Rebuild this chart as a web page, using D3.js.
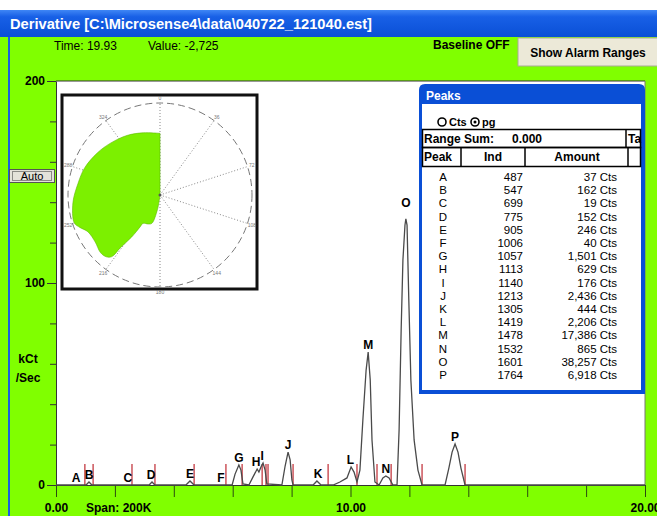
<!DOCTYPE html>
<html>
<head>
<meta charset="UTF-8">
<title>Derivative</title>
<script src="https://d3js.org/d3.v7.min.js"></script>
<style>
    body { margin: 0; background: #fff; }
    svg text { font-family: "Liberation Sans", Arial, sans-serif; }
    .bold { font-weight: bold; }
</style>
</head>
<body>
<div id="chart"></div>
<script>
(function(d3) {

    // chromatogram trace (time in min, kCt/Sec)
    var traceTime = [0, 1.02, 1.12, 1.22, 3.16, 3.26, 3.36, 4.41, 4.55, 4.69, 5.98,
        6.08, 6.21, 6.28, 6.35, 6.55, 6.69, 6.83, 6.89, 6.96, 7.03, 7.10, 7.16,
        7.67, 7.78, 7.88, 7.95, 8.01, 8.05, 8.73, 8.86, 9.0, 9.41, 9.64, 9.88,
        10.02, 10.12, 10.22, 10.32, 10.42, 10.53, 10.60, 10.67, 10.73, 10.83,
        10.97, 11.1, 11.2, 11.31, 11.44, 11.58, 11.65, 11.72, 11.78, 11.85, 11.88,
        11.92, 11.98, 12.05, 12.16, 12.29, 12.43, 13.21, 13.34, 13.45, 13.55,
        13.65, 13.75, 13.89, 20];
    var traceValue = [0, 0, 1.5, 0, 0, 1.5, 0, 0, 2, 0, 0,
        5.4, 9.9, 7.4, 0.5, 0, 4, 7.9, 6.4, 8.9, 10.9, 7.4, 0.5,
        0, 9.4, 16.3, 12.4, 2.5, 0, 0, 2, 0, 0, 1.5, 3.5,
        8.9, 6.4, 1.5, 7.4, 32.2, 56.9, 65.8, 52, 22.3, 1.5,
        0, 3.5, 4.5, 3.5, 0, 0, 27.2, 76.7, 111.4, 128.7, 131.7,
        128.7, 91.6, 52, 22.3, 7.4, 0, 0, 8.4, 16.3, 20.3,
        16.3, 8.4, 0, 0];

    // peak table
    var peakNames = ['A', 'B', 'C', 'D', 'E', 'F', 'G', 'H', 'I', 'J', 'K', 'L', 'M', 'N', 'O', 'P'];
    var peakInd = [487, 547, 699, 775, 905, 1006, 1057, 1113, 1140, 1213, 1305, 1419, 1478, 1532, 1601, 1764];
    var peakAmount = [37, 162, 19, 152, 246, 40, 1501, 629, 176, 2436, 444, 2206, 17386, 865, 38257, 6918];
    // where each peak letter sits on the chart
    var peakTime = [0.68, 1.12, 2.44, 3.23, 4.55, 5.6, 6.21, 6.79, 7.0, 7.88, 8.9, 10.0, 10.6, 11.2, 11.88, 13.55];
    var peakValue = [0, 1.5, 0, 1.5, 2, 0, 9.9, 7.9, 10.9, 16.3, 2, 8.9, 65.8, 4.5, 136, 20.3];
    // red integration marks
    var markerTime = [0.98, 1.26, 2.58, 3.36, 4.69, 5.77, 6.32, 7.0, 7.13, 7.2, 8.05, 9.24, 10.22, 10.9, 11.38, 12.43, 13.89];

    var yMinorTicks = [0, 20, 40, 60, 80, 100, 120, 140, 160, 180, 200];
    var yMajorTicks = [0, 100, 200];
    var xMinorTicks = [0, 2, 4, 6, 8, 10, 12, 14, 16, 18, 20];
    var xMajorTicks = [0, 10, 20];

    // polar inset
    var polarAngle = [180, 190, 196, 202, 211, 212, 214, 217, 218, 221, 226, 234, 243, 248, 252, 265, 278, 290, 304, 316, 331, 345, 360];
    var polarRadius = [0, 16, 32, 34, 36, 41, 55, 72, 85, 89, 90, 87, 88, 94, 98, 95, 90, 87, 82, 78, 74, 70, 67];
    var spokeAngles = [0, 36, 72, 108, 144, 180, 216, 252, 288, 324];

    var green = '#80ff00';
    var svg = d3.select('#chart').append('svg')
        .attr('width', 657).attr('height', 516);

    var defs = svg.append('defs');
    var grad = defs.append('linearGradient').attr('id', 'tbar')
        .attr('x1', 0).attr('y1', 0).attr('x2', 0).attr('y2', 1);
    grad.append('stop').attr('offset', '0%').attr('stop-color', '#3f86f5');
    grad.append('stop').attr('offset', '25%').attr('stop-color', '#1860e6');
    grad.append('stop').attr('offset', '100%').attr('stop-color', '#0a4fd6');

    svg.append('rect').attr('width', 657).attr('height', 516).attr('fill', green);
    svg.append('rect').attr('width', 657).attr('height', 10).attr('fill', '#fff');

    // title bar
    svg.append('rect').attr('x', 0).attr('y', 10).attr('width', 657).attr('height', 27)
        .attr('fill', 'url(#tbar)');
    svg.append('text').attr('class', 'bold').attr('x', 10).attr('y', 29)
        .attr('fill', '#fff').style('font-size', '14px')
        .attr('textLength', 362).attr('lengthAdjust', 'spacingAndGlyphs')
        .text('Derivative [C:\\Microsense4\\data\\040722_121040.est]');

    svg.append('rect').attr('x', 8).attr('y', 37).attr('width', 2).attr('height', 479).attr('fill', '#1a5ee0');

    // status line
    svg.append('text').attr('x', 54).attr('y', 50).style('font-size', '12px').text('Time: 19.93');
    svg.append('text').attr('x', 148).attr('y', 50).style('font-size', '12px').text('Value: -2,725');
    svg.append('text').attr('class', 'bold').attr('x', 433).attr('y', 49).style('font-size', '12px').text('Baseline OFF');

    svg.append('rect').attr('x', 518).attr('y', 38).attr('width', 141).attr('height', 28)
        .attr('fill', '#ece9d8').attr('stroke', '#aca899');
    svg.append('text').attr('class', 'bold').attr('x', 588).attr('y', 57)
        .attr('text-anchor', 'middle').style('font-size', '12px').text('Show Alarm Ranges');

    // main plot
    var x = d3.scaleLinear().domain([0, 20]).range([56, 645]);
    var y = d3.scaleLinear().domain([0, 200]).range([485, 81]);

    svg.append('rect').attr('x', x(0)).attr('y', y(200))
        .attr('width', x(20) - x(0)).attr('height', y(0) - y(200)).attr('fill', '#fff');
    svg.append('line').attr('x1', x(0)).attr('x2', x(20)).attr('y1', y(200)).attr('y2', y(200))
        .attr('stroke', '#333');
    svg.append('line').attr('x1', x(20)).attr('x2', x(20)).attr('y1', y(200)).attr('y2', y(0))
        .attr('stroke', '#777');

    var yMinor = svg.append('g').attr('transform', 'translate(' + x(0) + ',0)')
        .call(d3.axisLeft(y).tickValues(yMinorTicks).tickSize(6).tickSizeOuter(0).tickFormat(''));
    var yMajor = svg.append('g').attr('transform', 'translate(' + x(0) + ',0)')
        .call(d3.axisLeft(y).tickValues(yMajorTicks).tickSize(9).tickSizeOuter(0).tickPadding(2).tickFormat(d3.format('d')));
    yMajor.select('.domain').remove();
    yMajor.selectAll('text').attr('class', 'bold').style('font-size', '12px').attr('fill', '#000');
    [yMinor, yMajor].forEach(function(g) {
        g.selectAll('line').attr('stroke', '#333');
        g.select('.domain').attr('stroke', '#333');
    });

    var xMinor = svg.append('g').attr('transform', 'translate(0,' + y(0) + ')')
        .call(d3.axisBottom(x).tickValues(xMinorTicks).tickSize(12).tickSizeOuter(0).tickFormat(''));
    xMinor.selectAll('line').attr('stroke', '#2b4a10');
    xMinor.select('.domain').attr('stroke', '#333');
    var xMajor = svg.append('g').attr('transform', 'translate(0,' + y(0) + ')')
        .call(d3.axisBottom(x).tickValues(xMajorTicks).tickSize(0).tickPadding(18).tickFormat(d3.format('.2f')));
    xMajor.select('.domain').remove();
    xMajor.selectAll('text').attr('class', 'bold').style('font-size', '12px').attr('fill', '#000');

    svg.append('text').attr('class', 'bold').attr('x', 86).attr('y', 512)
        .style('font-size', '12px').text('Span: 200K');
    svg.append('text').attr('class', 'bold').attr('x', 28).attr('y', 363)
        .attr('text-anchor', 'middle').style('font-size', '12px').text('kCt');
    svg.append('text').attr('class', 'bold').attr('x', 28).attr('y', 382)
        .attr('text-anchor', 'middle').style('font-size', '12px').text('/Sec');

    // Auto button
    svg.append('rect').attr('x', 9.5).attr('y', 169.5).attr('width', 45).attr('height', 13)
        .attr('fill', '#e4e2da').attr('stroke', '#555');
    svg.append('rect').attr('x', 12.5).attr('y', 171.5).attr('width', 39).attr('height', 9)
        .attr('fill', 'none').attr('stroke', '#333').attr('stroke-dasharray', '1,1');
    svg.append('text').attr('x', 32).attr('y', 180).attr('text-anchor', 'middle')
        .style('font-size', '11px').text('Auto');

    // red marks
    svg.append('g').selectAll('line').data(markerTime).enter().append('line')
        .attr('x1', function(d) { return x(d); }).attr('x2', function(d) { return x(d); })
        .attr('y1', y(0)).attr('y2', y(0) - 21)
        .attr('stroke', '#c8484f').attr('stroke-width', 1.4);

    // trace
    var line = d3.line()
        .x(function(d) { return x(d[0]); })
        .y(function(d) { return y(d[1]); });
    svg.append('path').datum(d3.zip(traceTime, traceValue))
        .attr('d', line).attr('fill', 'none').attr('stroke', '#4a4a4a').attr('stroke-width', 1.3);

    svg.append('g').selectAll('text').data(peakNames).enter().append('text')
        .attr('class', 'bold')
        .attr('x', function(d, i) { return x(peakTime[i]); })
        .attr('y', function(d, i) { return y(peakValue[i]) - 3; })
        .attr('text-anchor', 'middle').style('font-size', '12px')
        .text(function(d) { return d; });

    // polar inset
    svg.append('rect').attr('x', 62).attr('y', 95).attr('width', 195).attr('height', 194)
        .attr('fill', '#fff').attr('stroke', '#111').attr('stroke-width', 3);
    var polar = svg.append('g').attr('transform', 'translate(160,195)');
    var r = d3.scaleLinear().domain([0, 100]).range([0, 92]);
    polar.selectAll('.spoke').data(spokeAngles).enter().append('line')
        .attr('x1', 0).attr('y1', 0)
        .attr('x2', function(d) { return r(100) * Math.sin(d * Math.PI / 180); })
        .attr('y2', function(d) { return -r(100) * Math.cos(d * Math.PI / 180); })
        .attr('stroke', '#888').attr('stroke-dasharray', '1,2');
    polar.append('circle').attr('r', r(100)).attr('fill', 'none')
        .attr('stroke', '#777').attr('stroke-dasharray', '7,4');
    polar.selectAll('.slab').data(spokeAngles).enter().append('text')
        .attr('x', function(d) { return r(105) * Math.sin(d * Math.PI / 180); })
        .attr('y', function(d) { return -r(105) * Math.cos(d * Math.PI / 180) + 2; })
        .attr('text-anchor', 'middle').attr('fill', '#777').style('font-size', '5px')
        .text(function(d) { return d; });
    var area = d3.areaRadial()
        .angle(function(d) { return d[0] * Math.PI / 180; })
        .innerRadius(0)
        .outerRadius(function(d) { return r(d[1]); })
        .curve(d3.curveCatmullRom);
    polar.append('path').datum(d3.zip(polarAngle, polarRadius))
        .attr('d', area).attr('fill', '#7cf000').attr('stroke', '#5cb800').attr('stroke-width', 0.6);
    polar.append('circle').attr('r', 1.5).attr('fill', '#555');

    // Peaks window
    var pw = svg.append('g');
    pw.append('path')
        .attr('d', 'M419,394 L419,90 Q419,84 425,84 L639,84 Q645,84 645,90 L645,394 Z')
        .attr('fill', '#0a4fd6');
    pw.append('rect').attr('x', 422).attr('y', 104).attr('width', 219).attr('height', 286).attr('fill', '#fff');
    pw.append('text').attr('class', 'bold').attr('x', 426).attr('y', 100)
        .attr('fill', '#fff').style('font-size', '12px').text('Peaks');

    pw.append('circle').attr('cx', 442).attr('cy', 122).attr('r', 4).attr('fill', '#fff')
        .attr('stroke', '#000').attr('stroke-width', 1.6);
    pw.append('text').attr('class', 'bold').attr('x', 449).attr('y', 126).style('font-size', '11px').text('Cts');
    pw.append('circle').attr('cx', 475).attr('cy', 122).attr('r', 4).attr('fill', '#fff')
        .attr('stroke', '#000').attr('stroke-width', 1.6);
    pw.append('circle').attr('cx', 475).attr('cy', 122).attr('r', 1.5).attr('fill', '#000');
    pw.append('text').attr('class', 'bold').attr('x', 482).attr('y', 126).style('font-size', '11px').text('pg');

    pw.append('rect').attr('x', 422.5).attr('y', 129.5).attr('width', 218).attr('height', 18)
        .attr('fill', 'none').attr('stroke', '#000').attr('stroke-width', 1.5);
    pw.append('line').attr('x1', 626).attr('x2', 626).attr('y1', 129).attr('y2', 148).attr('stroke', '#000').attr('stroke-width', 1.5);
    pw.append('text').attr('class', 'bold').attr('x', 424).attr('y', 143).style('font-size', '12px').text('Range Sum:');
    pw.append('text').attr('class', 'bold').attr('x', 512).attr('y', 143).style('font-size', '12px').text('0.000');
    pw.append('text').attr('class', 'bold').attr('x', 628).attr('y', 143).style('font-size', '12px').text('Ta');

    pw.append('rect').attr('x', 422.5).attr('y', 147.5).attr('width', 218).attr('height', 19)
        .attr('fill', 'none').attr('stroke', '#000').attr('stroke-width', 1.5);
    [461, 525, 628].forEach(function(cx) {
        pw.append('line').attr('x1', cx).attr('x2', cx).attr('y1', 147).attr('y2', 167)
            .attr('stroke', '#000').attr('stroke-width', 1.5);
    });
    pw.append('text').attr('class', 'bold').attr('x', 424).attr('y', 161).style('font-size', '12px').text('Peak');
    pw.append('text').attr('class', 'bold').attr('x', 493).attr('y', 161).attr('text-anchor', 'middle').style('font-size', '12px').text('Ind');
    pw.append('text').attr('class', 'bold').attr('x', 577).attr('y', 161).attr('text-anchor', 'middle').style('font-size', '12px').text('Amount');

    var fmt = d3.format(',');
    var rows = pw.append('g').selectAll('g').data(peakNames).enter().append('g')
        .attr('transform', function(d, i) { return 'translate(0,' + (181 + i * 13.2) + ')'; })
        .style('font-size', '11.5px');
    rows.append('text').attr('x', 443).attr('text-anchor', 'middle').text(function(d) { return d; });
    rows.append('text').attr('x', 523).attr('text-anchor', 'end').text(function(d, i) { return peakInd[i]; });
    rows.append('text').attr('x', 617).attr('text-anchor', 'end').text(function(d, i) { return fmt(peakAmount[i]) + ' Cts'; });

})(window.d3);
</script>
</body>
</html>
